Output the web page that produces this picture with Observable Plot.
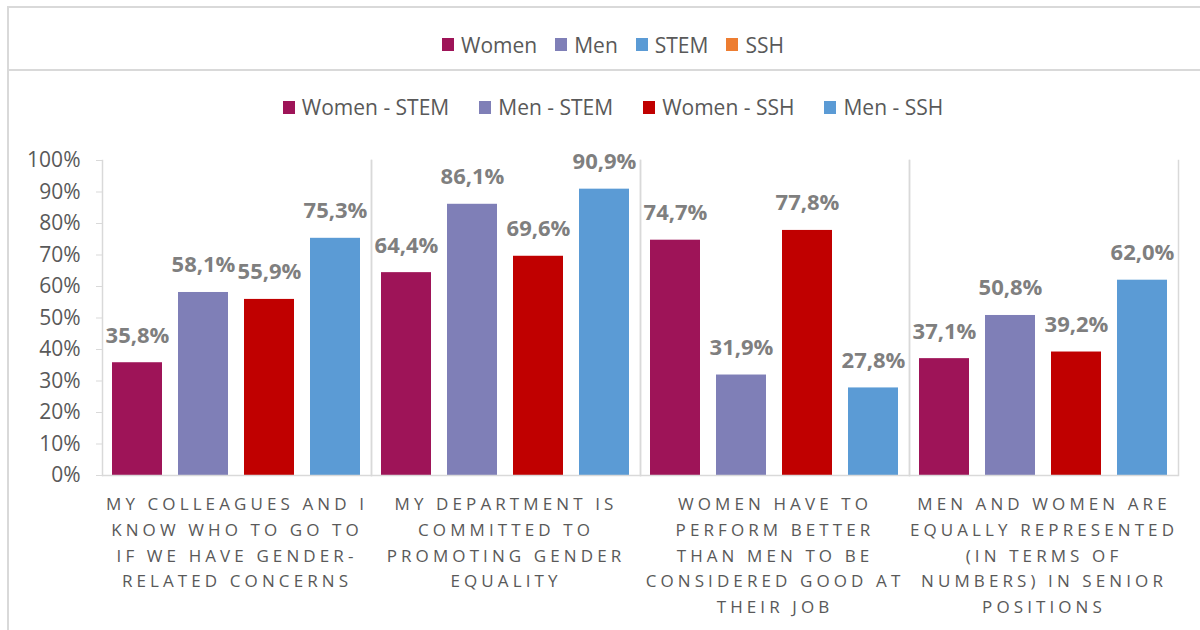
<!DOCTYPE html>
<html>
<head>
<meta charset="utf-8">
<script src="https://cdn.jsdelivr.net/npm/d3@7"></script>
<script src="https://cdn.jsdelivr.net/npm/@observablehq/plot@0.6"></script>
<style>
  html, body { margin: 0; padding: 0; background: #fff; width: 1200px; height: 630px; overflow: hidden; font-family: "Open Sans", sans-serif; }
  #box { position: absolute; left: 7px; top: 6px; width: 1210px; height: 640px; border-top: 2px solid #d9d9d9; border-left: 2px solid #d9d9d9; box-sizing: border-box; }
  #leg1 { position: absolute; left: 0; top: 0; width: 100%; height: 63px; border-bottom: 2px solid #d9d9d9; display: flex; justify-content: center; align-items: center; padding-top: 12px; box-sizing: border-box; }
  #leg2 { position: absolute; left: 0; top: 82px; width: 100%; height: 34px; display: flex; justify-content: center; align-items: center; }
  .item { display: flex; align-items: center; color: #595959; font-size: 21px; }
  .sw { display: inline-block; width: 12px; height: 13px; margin-right: 7px; }
  #leg1 .item { margin: 0 9px; }
  #leg2 .item { margin: 0 15px; }
  #chart { position: absolute; left: 0; top: 130px; }
  g[aria-label="fx-axis tick label"] text { letter-spacing: 4.1px; }
</style>
</head>
<body>
<div id="box"><div id="leg1"></div><div id="leg2"></div></div>
<div id="chart"></div>
<script>
const categories = [
  "MY COLLEAGUES AND I\nKNOW WHO TO GO TO\nIF WE HAVE GENDER-\nRELATED CONCERNS",
  "MY DEPARTMENT IS\nCOMMITTED TO\nPROMOTING GENDER\nEQUALITY",
  "WOMEN HAVE TO\nPERFORM BETTER\nTHAN MEN TO BE\nCONSIDERED GOOD AT\nTHEIR JOB",
  "MEN AND WOMEN ARE\nEQUALLY REPRESENTED\n(IN TERMS OF\nNUMBERS) IN SENIOR\nPOSITIONS"
];
const series = ["Women - STEM", "Men - STEM", "Women - SSH", "Men - SSH"];
const seriesColors = ["#9e1458", "#7f7fb7", "#c00000", "#5b9bd5"];
const womenSTEM = [35.8, 64.4, 74.7, 37.1];
const menSTEM   = [58.1, 86.1, 31.9, 50.8];
const womenSSH  = [55.9, 69.6, 77.8, 39.2];
const menSSH    = [75.3, 90.9, 27.8, 62.0];
const legend1 = ["Women", "Men", "STEM", "SSH"];
const legend1Colors = ["#9e1458", "#7f7fb7", "#5b9bd5", "#ed7d31"];
const yTicks = [0, 10, 20, 30, 40, 50, 60, 70, 80, 90, 100];

const allValues = [womenSTEM, menSTEM, womenSSH, menSSH];
const data = [];
categories.forEach((c, i) => series.forEach((s, j) => data.push({cat: c, series: s, value: allValues[j][i]})));

function makeLegend(el, names, colors) {
  names.forEach((n, i) => {
    const it = document.createElement("div"); it.className = "item";
    const sw = document.createElement("span"); sw.className = "sw"; sw.style.background = colors[i];
    it.appendChild(sw); it.appendChild(document.createTextNode(n));
    el.appendChild(it);
  });
}
makeLegend(document.getElementById("leg1"), legend1, legend1Colors);
makeLegend(document.getElementById("leg2"), series, seriesColors);

const fmt = v => v.toFixed(1).replace(".", ",") + "%";

const plot = Plot.plot({
  width: 1200,
  height: 500,
  marginTop: 30,
  marginBottom: 155,
  marginLeft: 101,
  marginRight: 22,
  style: {fontFamily: "Open Sans, sans-serif", background: "transparent"},
  fx: {domain: categories, padding: 0, axis: null},
  x: {domain: series, paddingInner: 0.24, paddingOuter: 0.13, axis: null},
  y: {domain: [0, 100], axis: null},
  color: {domain: series, range: seriesColors},
  marks: [
    Plot.frame({anchor: "left", stroke: "#d9d9d9", strokeWidth: 1.5}),
    Plot.frame({anchor: "right", stroke: "#d9d9d9", strokeWidth: 1.5}),
    Plot.axisY({ticks: yTicks, tickFormat: d => d + "%", tickSize: 6, tickPadding: 16, fontSize: 21, stroke: "#d9d9d9", fill: "#595959", label: null}),
    Plot.axisFx({anchor: "bottom", tickSize: 0, tickPadding: 16, fontSize: 17, lineHeight: 1.52, fill: "#595959", label: null}),
    Plot.barY(data, {fx: "cat", x: "series", y: "value", fill: "series"}),
    Plot.ruleY([0], {stroke: "#d9d9d9", strokeWidth: 1.5}),
    Plot.text(data, {fx: "cat", x: "series", y: "value", text: d => fmt(d.value), lineAnchor: "bottom", dy: -20, fontSize: 22, fontWeight: "bold", fill: "#7f7f7f"})
  ]
});
document.getElementById("chart").appendChild(plot);
</script>
</body>
</html>
